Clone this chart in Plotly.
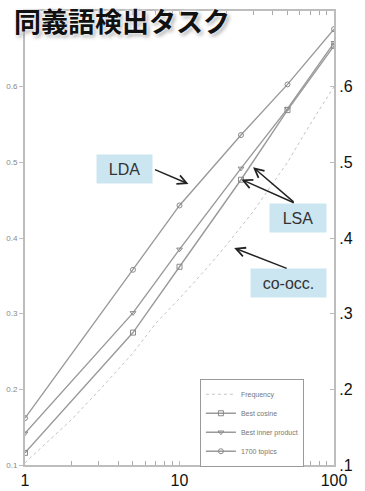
import plotly.graph_objects as go

# data
x_points = [1, 5, 10, 25, 50, 100]
best_cosine = [0.116, 0.275, 0.362, 0.477, 0.569, 0.654]
best_inner = [0.142, 0.301, 0.385, 0.492, 0.571, 0.658]
topics_1700 = [0.162, 0.358, 0.443, 0.536, 0.603, 0.676]

freq_x = [1, 2, 3, 5, 7, 10, 15, 20, 30, 50, 70, 100]
freq_y = [0.103, 0.16, 0.198, 0.248, 0.287, 0.32, 0.36, 0.39, 0.435, 0.50, 0.55, 0.60]

left_ticks = [0.1, 0.2, 0.3, 0.4, 0.5, 0.6]
left_ticktext = ["0.1", "0.2", "0.3", "0.4", "0.5", "0.6"]
right_ticktext = [".1", ".2", ".3", ".4", ".5", ".6"]
x_ticks = [1, 10, 100]
x_ticktext = ["1", "10", "100"]
x_minor_ticks = [2, 3, 4, 5, 6, 7, 8, 9, 20, 30, 40, 50, 60, 70, 80, 90]

LINE = "#9a9a9a"
AX = "#bdbdbd"

fig = go.Figure()
fig.add_trace(go.Scatter(x=freq_x, y=freq_y, name="Frequency", mode="lines",
                         line=dict(color="#c4c4c4", width=1, dash="dot")))
fig.add_trace(go.Scatter(x=x_points, y=best_cosine, name="Best cosine", mode="lines+markers",
                         line=dict(color=LINE, width=1.4),
                         marker=dict(symbol="square-open", size=5, color="#8a8a8a", line=dict(width=1))))
fig.add_trace(go.Scatter(x=x_points, y=best_inner, name="Best inner product", mode="lines+markers",
                         line=dict(color=LINE, width=1.4),
                         marker=dict(symbol="triangle-down-open", size=5, color="#8a8a8a", line=dict(width=1))))
fig.add_trace(go.Scatter(x=x_points, y=topics_1700, name="1700 topics", mode="lines+markers",
                         line=dict(color=LINE, width=1.4),
                         marker=dict(symbol="circle-open", size=5, color="#8a8a8a", line=dict(width=1))))
# invisible trace to drive the right axis
fig.add_trace(go.Scatter(x=[1], y=[0.1], yaxis="y2", showlegend=False, mode="markers",
                         marker=dict(opacity=0), hoverinfo="skip"))

fig.update_layout(
    width=365, height=491,
    margin=dict(l=25, r=31, t=11, b=26, autoexpand=False),
    paper_bgcolor="white", plot_bgcolor="white",
    showlegend=True,
    legend=dict(x=0.566, y=0.19, xanchor="left", yanchor="top",
                bordercolor="#9a9a9a", borderwidth=1, bgcolor="white",
                font=dict(family="Liberation Sans", size=7, color="#777"),
                itemwidth=30, tracegroupgap=0),
    xaxis=dict(type="log", range=[0, 2], tickvals=x_ticks, ticktext=x_ticktext,
               automargin=False,
               showgrid=False, zeroline=False, showline=True, linecolor=AX, linewidth=1.5,
               mirror="allticks", ticks="inside", ticklen=4, tickcolor=AX,
               ticklabelstandoff=0,
               minor=dict(tickvals=x_minor_ticks, ticks="inside", ticklen=3,
                          tickcolor="#aaaaaa", tickwidth=1, showgrid=False),
               tickfont=dict(family="Liberation Sans", size=16, color="#111")),
    yaxis=dict(range=[0.1, 0.7], tickvals=left_ticks, ticktext=left_ticktext,
               automargin=False,
               showgrid=False, zeroline=False, showline=True, linecolor=AX, linewidth=2,
               ticks="outside", ticklen=4, tickcolor=AX,
               tickfont=dict(family="Liberation Sans", size=8, color="#888")),
    yaxis2=dict(range=[0.1, 0.7], overlaying="y", side="right", tickvals=left_ticks,
                automargin=False,
                ticktext=right_ticktext, showgrid=False, zeroline=False, showline=True,
                linecolor=AX, linewidth=2, ticks="inside", ticklen=4, tickcolor=AX,
                tickfont=dict(family="Liberation Sans", size=16, color="#111")),
)

BOX = "#cbe5f1"
LABEL_FONT = dict(family="Liberation Sans", size=16, color="#333")
boxes = [
    ("LDA", 0.321, 0.653, 55, 28),
    ("LSA", 0.884, 0.545, 56, 28),
    ("co-occ.", 0.853, 0.401, 75, 28),
]
for text, bx, by, w, h in boxes:
    fig.add_annotation(text=text, xref="paper", yref="paper", x=bx, y=by,
                       xanchor="center", yanchor="middle", showarrow=False,
                       bgcolor=BOX, width=w, height=h, borderpad=0, font=LABEL_FONT)

arrows = [
    (0.529, 0.619, -35, -15),
    (0.738, 0.656, 42, 36),
    (0.700, 0.629, 54, 24),
    (0.677, 0.478, 54, 21),
]
for ax_tip, ay_tip, dx, dy in arrows:
    fig.add_annotation(text="", xref="paper", yref="paper", x=ax_tip, y=ay_tip,
                       ax=dx, ay=dy, showarrow=True, arrowhead=5, arrowsize=1.2,
                       arrowwidth=1.5, arrowcolor="#222")

fig.add_annotation(text="<b>同義語検出タスク</b>", xref="paper", yref="paper",
                   x=0.314, y=0.978, xanchor="center", yanchor="middle", showarrow=False,
                   font=dict(family="Noto Sans CJK JP", size=27, color="#111",
                             shadow="0px 0px 3px white, 0px 0px 4px white, 2px 2px 4px rgba(0,0,0,0.45)"))

fig.write_html("out.html", config={"displayModeBar": False},
               post_script="document.body.style.margin='0px';")
